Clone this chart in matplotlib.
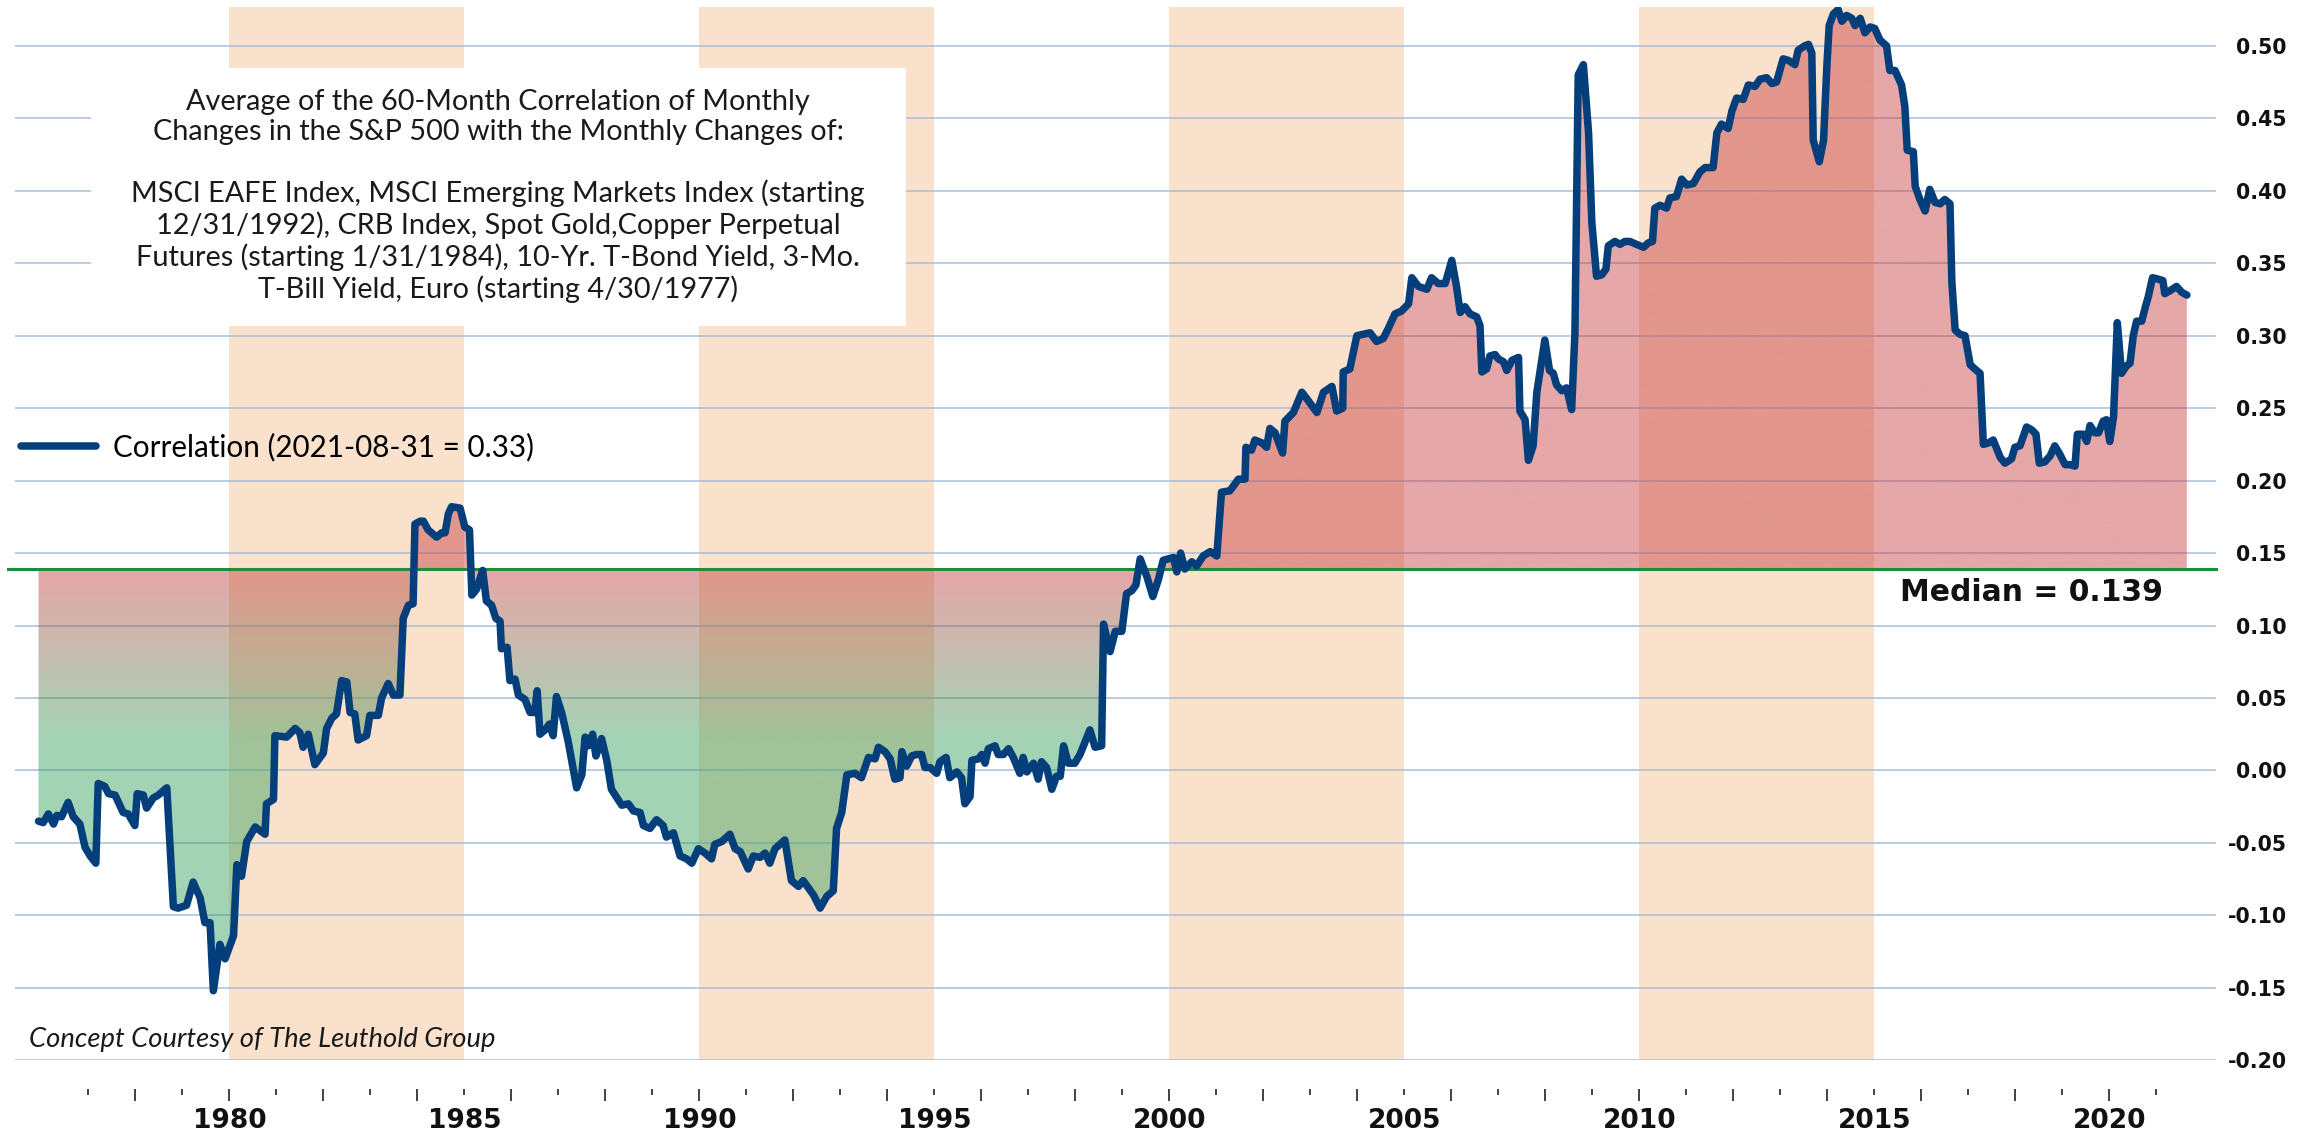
import numpy as np
import matplotlib
matplotlib.use('Agg')
import matplotlib.pyplot as plt
from matplotlib.ticker import FixedLocator, FuncFormatter
from matplotlib.patches import Rectangle

W, H = 2316, 1134

MEDIAN = 0.139
LEGEND_LABEL = 'Correlation (2021-08-31 = 0.33)'
MEDIAN_LABEL = 'Median = 0.139'
CREDIT = 'Concept Courtesy of The Leuthold Group'
BOX_TEXT = ('Average of the 60-Month Correlation of Monthly\n'
            'Changes in the S&P 500 with the Monthly Changes of:\n'
            '\n'
            'MSCI EAFE Index, MSCI Emerging Markets Index (starting\n'
            '12/31/1992), CRB Index, Spot Gold,Copper Perpetual\n'
            'Futures (starting 1/31/1984), 10-Yr. T-Bond Yield, 3-Mo.\n'
            'T-Bill Yield, Euro (starting 4/30/1977)')

# shaded half-decades
BAND_START = [1980, 1990, 2000, 2010]
BAND_END = [1985, 1995, 2005, 2015]

Y_TICKS = [-0.20, -0.15, -0.10, -0.05, 0.00, 0.05, 0.10, 0.15, 0.20, 0.25, 0.30, 0.35, 0.40, 0.45, 0.50]
TICK_YEARS = list(range(1977, 2022))
LABEL_YEARS = [1980, 1985, 1990, 1995, 2000, 2005, 2010, 2015, 2020]

# correlation series (decimal year, value)
YEARS = [
    1975.94, 1976.04, 1976.15, 1976.26, 1976.33, 1976.43, 1976.57, 1976.68, 1976.82, 1976.93,
    1977.04, 1977.16, 1977.21, 1977.35, 1977.43, 1977.57, 1977.67, 1977.74, 1977.85, 1977.99,
    1978.04, 1978.17, 1978.24, 1978.38, 1978.49, 1978.67, 1978.81, 1978.91, 1979.09, 1979.23,
    1979.38, 1979.48, 1979.59, 1979.66, 1979.80, 1979.91, 1980.09, 1980.16, 1980.26, 1980.37,
    1980.55, 1980.76, 1980.79, 1980.94, 1980.97, 1981.22, 1981.40, 1981.50, 1981.57, 1981.68,
    1981.82, 1982.00, 1982.07, 1982.18, 1982.28, 1982.39, 1982.50, 1982.57, 1982.67, 1982.74,
    1982.92, 1982.99, 1983.17, 1983.24, 1983.38, 1983.49, 1983.63, 1983.70, 1983.81, 1983.91,
    1983.95,
    1984.06, 1984.13, 1984.23, 1984.41, 1984.52, 1984.59, 1984.66, 1984.73, 1984.91, 1985.01,
    1985.11, 1985.16, 1985.26, 1985.39, 1985.47, 1985.58, 1985.67, 1985.76, 1985.79, 1985.91,
    1985.97, 1986.08, 1986.15, 1986.29, 1986.40, 1986.50, 1986.55, 1986.61, 1986.72, 1986.81,
    1986.89, 1986.96, 1987.07, 1987.21, 1987.39, 1987.50, 1987.57, 1987.64, 1987.73, 1987.80,
    1987.92, 1988.03, 1988.13, 1988.35, 1988.49, 1988.60, 1988.74, 1988.81, 1988.95, 1989.09,
    1989.23, 1989.30, 1989.45, 1989.59, 1989.73, 1989.84, 1989.98, 1990.12, 1990.26, 1990.33,
    1990.48, 1990.65, 1990.76, 1990.87, 1991.04, 1991.15, 1991.29, 1991.40, 1991.50, 1991.61,
    1991.82, 1991.96, 1992.11,
    1992.21, 1992.43, 1992.57, 1992.71, 1992.85, 1992.92, 1993.03, 1993.14, 1993.31, 1993.45,
    1993.60, 1993.74, 1993.81, 1993.95, 1994.06, 1994.16, 1994.27, 1994.31, 1994.41, 1994.52,
    1994.62, 1994.73, 1994.80, 1994.91, 1995.05, 1995.12, 1995.25, 1995.33, 1995.48, 1995.58,
    1995.65, 1995.76, 1995.80, 1995.94, 1996.01, 1996.08, 1996.15, 1996.29, 1996.36, 1996.47,
    1996.58, 1996.68, 1996.82, 1996.89, 1996.97, 1997.11, 1997.21, 1997.28, 1997.39, 1997.50,
    1997.60, 1997.68, 1997.75, 1997.85, 1997.99, 1998.10, 1998.21, 1998.31, 1998.42, 1998.56,
    1998.60, 1998.74, 1998.85, 1998.99, 1999.09, 1999.20, 1999.29, 1999.38, 1999.52, 1999.65,
    1999.77, 1999.87,
    2000.09, 2000.16, 2000.24, 2000.33, 2000.48, 2000.58, 2000.72, 2000.87, 2001.01, 2001.11,
    2001.29, 2001.47, 2001.61, 2001.63, 2001.75, 2001.82, 2001.97, 2002.07, 2002.14, 2002.25,
    2002.41, 2002.46, 2002.64, 2002.82, 2002.96, 2003.14, 2003.28, 2003.46, 2003.56, 2003.69,
    2003.70, 2003.84, 2003.99, 2004.13, 2004.27, 2004.41, 2004.55, 2004.66, 2004.80, 2004.94,
    2005.09, 2005.16, 2005.30, 2005.48, 2005.58, 2005.72, 2005.87, 2006.01, 2006.11, 2006.19,
    2006.29, 2006.40, 2006.54, 2006.61, 2006.65, 2006.75, 2006.82, 2006.93, 2007.00, 2007.11,
    2007.18, 2007.29, 2007.43, 2007.46, 2007.57, 2007.64, 2007.74, 2007.82, 2007.99,
    2008.09, 2008.17, 2008.24, 2008.35, 2008.45, 2008.56, 2008.63, 2008.70, 2008.81, 2008.92,
    2008.99, 2009.09, 2009.20, 2009.29, 2009.34, 2009.48, 2009.59, 2009.69, 2009.80, 2009.94,
    2010.09, 2010.19, 2010.28, 2010.33, 2010.44, 2010.58, 2010.65, 2010.79, 2010.90, 2011.01,
    2011.15, 2011.29, 2011.40, 2011.57, 2011.65, 2011.75, 2011.89, 2011.97, 2012.07, 2012.21,
    2012.32, 2012.46, 2012.57, 2012.71, 2012.82, 2012.92, 2013.06, 2013.17, 2013.31, 2013.38,
    2013.52, 2013.60, 2013.67, 2013.70, 2013.83, 2013.92, 2013.99, 2014.04, 2014.13, 2014.23,
    2014.31, 2014.41, 2014.52, 2014.59, 2014.70, 2014.80, 2014.91, 2015.01, 2015.12, 2015.26,
    2015.33, 2015.44, 2015.58, 2015.65, 2015.70, 2015.83, 2015.87, 2015.97, 2016.08, 2016.18,
    2016.29, 2016.40, 2016.50, 2016.61, 2016.65, 2016.72, 2016.82, 2016.93, 2017.04, 2017.14,
    2017.25, 2017.32, 2017.43, 2017.53, 2017.68, 2017.78, 2017.92, 2017.99, 2018.10, 2018.24,
    2018.35, 2018.44, 2018.51, 2018.63, 2018.74, 2018.84, 2018.95, 2019.06, 2019.16, 2019.27,
    2019.32, 2019.45, 2019.52, 2019.59, 2019.69, 2019.77, 2019.87, 2019.94, 2020.01, 2020.09,
    2020.17, 2020.26, 2020.36, 2020.44, 2020.51, 2020.58, 2020.69, 2020.76, 2020.83, 2020.92,
    2021.04, 2021.14, 2021.18, 2021.29, 2021.43, 2021.54, 2021.65,
]
CORR = [
    -0.035, -0.036, -0.030, -0.037, -0.031, -0.032, -0.022, -0.032, -0.037, -0.053,
    -0.059, -0.064, -0.009, -0.011, -0.016, -0.017, -0.024, -0.029, -0.030, -0.038,
    -0.016, -0.017, -0.026, -0.019, -0.017, -0.012, -0.094, -0.095, -0.093, -0.077,
    -0.088, -0.105, -0.105, -0.152, -0.120, -0.130, -0.114, -0.065, -0.073, -0.049,
    -0.039, -0.044, -0.023, -0.020, 0.024, 0.023, 0.029, 0.026, 0.016, 0.025,
    0.004, 0.012, 0.029, 0.036, 0.039, 0.062, 0.061, 0.040, 0.039, 0.021,
    0.024, 0.038, 0.038, 0.050, 0.060, 0.052, 0.052, 0.105, 0.114, 0.115,
    0.170,
    0.172, 0.172, 0.166, 0.161, 0.164, 0.164, 0.177, 0.182, 0.181, 0.168,
    0.166, 0.121, 0.125, 0.138, 0.117, 0.114, 0.105, 0.103, 0.084, 0.085,
    0.062, 0.063, 0.052, 0.049, 0.040, 0.040, 0.055, 0.025, 0.028, 0.032,
    0.024, 0.051, 0.040, 0.020, -0.012, -0.003, 0.023, 0.017, 0.025, 0.010,
    0.022, 0.007, -0.013, -0.024, -0.023, -0.028, -0.029, -0.038, -0.040, -0.034,
    -0.038, -0.046, -0.043, -0.059, -0.061, -0.064, -0.054, -0.057, -0.061, -0.051,
    -0.049, -0.044, -0.054, -0.056, -0.068, -0.059, -0.060, -0.057, -0.064, -0.054,
    -0.048, -0.076, -0.080,
    -0.076, -0.086, -0.095, -0.087, -0.083, -0.040, -0.029, -0.003, -0.002, -0.005,
    0.009, 0.008, 0.016, 0.013, 0.008, -0.006, -0.005, 0.013, 0.003, 0.010,
    0.011, 0.011, 0.002, 0.002, -0.002, 0.006, 0.009, -0.005, -0.001, -0.005,
    -0.023, -0.018, 0.007, 0.008, 0.011, 0.005, 0.015, 0.017, 0.011, 0.011,
    0.015, 0.009, -0.002, 0.009, -0.001, 0.005, -0.006, 0.006, 0.002, -0.013,
    -0.004, -0.004, 0.017, 0.005, 0.005, 0.011, 0.020, 0.028, 0.016, 0.017,
    0.101, 0.082, 0.096, 0.096, 0.122, 0.124, 0.128, 0.146, 0.134, 0.120,
    0.132, 0.145,
    0.147, 0.137, 0.150, 0.139, 0.144, 0.141, 0.148, 0.151, 0.148, 0.192,
    0.193, 0.201, 0.201, 0.223, 0.221, 0.228, 0.226, 0.223, 0.236, 0.233,
    0.219, 0.241, 0.247, 0.261, 0.255, 0.247, 0.261, 0.265, 0.248, 0.250,
    0.275, 0.277, 0.300, 0.301, 0.302, 0.296, 0.298, 0.305, 0.315, 0.317,
    0.322, 0.340, 0.334, 0.332, 0.340, 0.336, 0.336, 0.352, 0.334, 0.316,
    0.320, 0.315, 0.313, 0.307, 0.275, 0.277, 0.286, 0.287, 0.284, 0.282,
    0.276, 0.283, 0.285, 0.248, 0.242, 0.214, 0.224, 0.261, 0.297,
    0.276, 0.274, 0.266, 0.262, 0.264, 0.249, 0.302, 0.480, 0.487, 0.440,
    0.378, 0.341, 0.342, 0.346, 0.362, 0.365, 0.363, 0.365, 0.365, 0.363,
    0.361, 0.364, 0.365, 0.388, 0.390, 0.388, 0.395, 0.396, 0.408, 0.404,
    0.405, 0.413, 0.416, 0.416, 0.440, 0.446, 0.443, 0.455, 0.464, 0.463,
    0.473, 0.472, 0.477, 0.478, 0.474, 0.475, 0.491, 0.490, 0.487, 0.497,
    0.500, 0.501, 0.495, 0.435, 0.420, 0.435, 0.486, 0.514, 0.522, 0.525,
    0.517, 0.521, 0.519, 0.514, 0.519, 0.509, 0.513, 0.512, 0.504, 0.500,
    0.483, 0.483, 0.473, 0.458, 0.428, 0.427, 0.403, 0.394, 0.386, 0.401,
    0.392, 0.391, 0.394, 0.391, 0.337, 0.304, 0.301, 0.300, 0.280, 0.277,
    0.274, 0.225, 0.226, 0.228, 0.216, 0.212, 0.215, 0.223, 0.224, 0.237,
    0.235, 0.232, 0.212, 0.213, 0.217, 0.224, 0.218, 0.211, 0.211, 0.210,
    0.232, 0.232, 0.227, 0.238, 0.233, 0.233, 0.241, 0.242, 0.227, 0.244,
    0.309, 0.274, 0.279, 0.281, 0.300, 0.310, 0.310, 0.319, 0.327, 0.340,
    0.339, 0.338, 0.329, 0.331, 0.334, 0.330, 0.328,
]

years = np.array(YEARS)
corr = np.array(CORR)

LINE_C = '#043F7C'
BAND_C = '#F9E1CB'
GRID_C = '#A9BED8'
RED = np.array([198, 58, 62]) / 255
GREEN = np.array([51, 158, 91]) / 255
TXT_FONT = 'Lato'

# tick labels are bold; the plain texts set their weight explicitly
plt.rcParams['font.weight'] = 'bold'


def fig_xy(px, py):
    """pixel position (from top-left) -> figure fraction"""
    return px / W, 1 - py / H


fig = plt.figure(figsize=(W / 100, H / 100), dpi=100)
ax = fig.add_axes([15 / W, (H - 1060.3) / H, 2201 / W, (1060.3 - 6.7) / H])
XLIM = (1975.44, 2022.27)
YLIM = (-0.20, 0.527)

for a, b in zip(BAND_START, BAND_END):
    ax.axvspan(a, b, color=BAND_C, lw=0, zorder=0)

# area between series and median, coloured by a vertical gradient
poly = ax.fill_between(years, corr, MEDIAN, facecolor='none', edgecolor='none')
ys = np.linspace(YLIM[0], YLIM[1], 600)
t = np.clip((MEDIAN - ys) / (MEDIAN - 0.02), 0, 1)[:, None]
rgba = np.zeros((len(ys), 1, 4))
rgba[:, 0, :3] = RED * (1 - t) + GREEN * t
rgba[:, 0, 3] = 0.45
im = ax.imshow(rgba, extent=[XLIM[0], XLIM[1], YLIM[0], YLIM[1]], origin='lower',
               aspect='auto', interpolation='bilinear', zorder=2)
im.set_clip_path(poly.get_paths()[0], ax.transData)

ax.axhline(MEDIAN, xmin=-0.0032, color='#1F8B3B', lw=2.2, zorder=2.5, clip_on=False)
line, = ax.plot(years, corr, color=LINE_C, lw=5.4, solid_joinstyle='round',
                solid_capstyle='round', zorder=3, label=LEGEND_LABEL)

ax.set_xlim(*XLIM)
ax.set_ylim(*YLIM)

# y axis on the right
ax.yaxis.tick_right()
ax.set_yticks(Y_TICKS)
ax.yaxis.set_major_formatter(FuncFormatter(lambda v, p: f'{v:.2f}'))
ax.tick_params(axis='y', length=0, pad=51, labelsize=14.8, labelcolor='#111111')
for lbl in ax.get_yticklabels():
    lbl.set_horizontalalignment('right')
ax.grid(axis='y', color=GRID_C, lw=1.1)

# x axis: yearly ticks, long on even years
ax.xaxis.set_major_locator(FixedLocator([y for y in TICK_YEARS if y % 2 == 0]))
ax.xaxis.set_minor_locator(FixedLocator([y for y in TICK_YEARS if y % 2 == 1]))
fmt = FuncFormatter(lambda v, p: f'{int(round(v))}' if int(round(v)) in LABEL_YEARS else '')
ax.xaxis.set_major_formatter(fmt)
ax.xaxis.set_minor_formatter(fmt)
ax.tick_params(axis='x', which='major', direction='out', length=8.6, width=1.2,
               color='#222222', pad=4.5, labelsize=19, labelcolor='#111111')
ax.tick_params(axis='x', which='minor', direction='out', length=4.3, width=1.2,
               color='#222222', pad=8.8, labelsize=19, labelcolor='#111111')
ax.spines['bottom'].set_position(('outward', 21))
for s in ax.spines.values():
    s.set_color('none')

# text box
x0, y0 = fig_xy(91, 326)
x1, y1 = fig_xy(906, 68)
ax.add_patch(Rectangle((x0, y0), x1 - x0, y1 - y0, transform=fig.transFigure,
                       facecolor='white', edgecolor='none', zorder=4, clip_on=False))
tx, ty = fig_xy(498, 196)
fig.text(tx, ty, BOX_TEXT, ha='center', va='center', multialignment='center',
         fontfamily=TXT_FONT, fontweight='normal', fontsize=20.8, linespacing=1.2,
         color='#1A1A1A', zorder=5)

lx, ly = fig_xy(21, 447)
ax.legend(handles=[line], loc='center left', bbox_to_anchor=(lx, ly),
          bbox_transform=fig.transFigure, frameon=False, borderpad=0, borderaxespad=0,
          handlelength=2.55, handletextpad=0.55,
          prop={'family': TXT_FONT, 'size': 21.3, 'weight': 'normal'})

cx, cy = fig_xy(29, 1040)
fig.text(cx, cy, CREDIT, ha='left', va='center', fontfamily=TXT_FONT, fontstyle='italic',
         fontweight='normal', fontsize=19.7, color='#1A1A1A')

ax.text(2021.14, 0.1225, MEDIAN_LABEL, ha='right', va='center', fontsize=21.5,
        fontweight='bold', color='#111111', zorder=5)

fig.savefig('out.png', dpi=100)
